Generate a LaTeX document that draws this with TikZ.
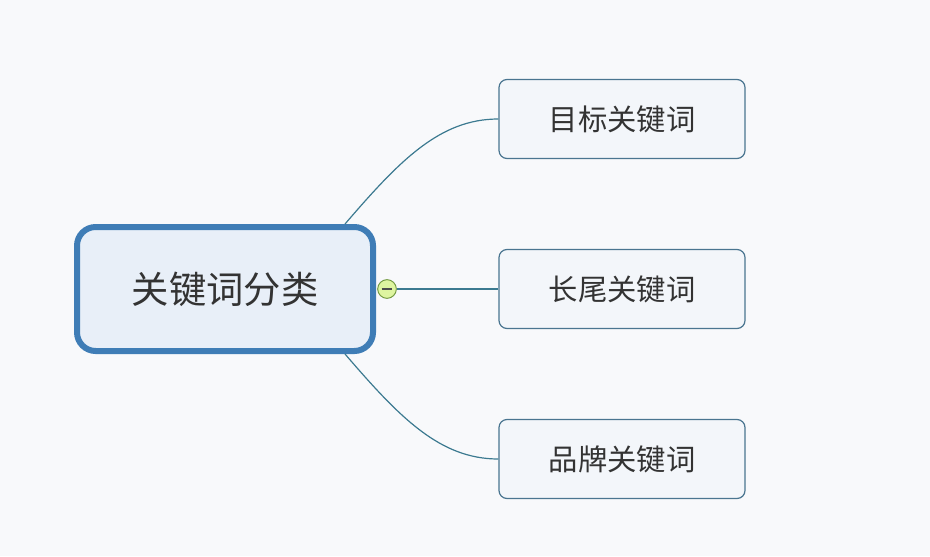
\documentclass[tikz,border=0pt]{standalone}
\usepackage{fontspec}
\newfontfamily\cjk{Noto Sans CJK SC}
\definecolor{bg}{HTML}{F8F9FB}
\definecolor{mainb}{HTML}{3F7DB6}
\definecolor{mainf}{HTML}{E8EFF8}
\definecolor{subb}{HTML}{4A7590}
\definecolor{subf}{HTML}{F3F6FA}
\definecolor{linec}{HTML}{3C7A90}
\definecolor{tx}{HTML}{333333}
\tikzset{
  mainnode/.style={draw=mainb,line width=4.5pt,fill=mainf,rounded corners=14pt,minimum width=296\pxu,minimum height=124\pxu,font=\cjk\fontsize{28}{32}\selectfont,text=tx},
  subnode/.style={draw=subb,line width=0.9pt,fill=subf,rounded corners=6pt,minimum width=246\pxu,minimum height=79\pxu,font=\cjk\fontsize{22}{26}\selectfont,text=tx},
  conn/.style={draw=linec,line width=0.9pt}
}
\newlength\pxu \setlength\pxu{0.75pt}
\begin{document}
\begin{tikzpicture}[x=0.75pt,y=-0.75pt]
\fill[bg] (0,0) rectangle (930,556);
\useasboundingbox (0,0) rectangle (930,556);
\node[mainnode] (c) at (225,289) {关键词分类};
\node[subnode] (a) at (622,119) {目标关键词};
\node[subnode] (b) at (622,289) {长尾关键词};
\node[subnode] (d) at (622,459) {品牌关键词};
\coordinate (ct) at (345,224);
\coordinate (cb) at (345,354);
\draw[conn] (ct) .. controls (400,160) and (440,119) .. (a.west);
\draw[conn] (cb) .. controls (400,418) and (440,459) .. (d.west);
\node[circle,draw={rgb,255:red,110;green,150;blue,60},fill={rgb,255:red,222;green,245;blue,160},line width=0.7pt,minimum size=14pt,inner sep=0pt] (k) at (387,289) {};
\draw[line width=1pt,black!70] ([xshift=-4pt]k.center) -- ([xshift=4pt]k.center);
\draw[conn] (k.east) -- (b.west);
\end{tikzpicture}
\end{document}
